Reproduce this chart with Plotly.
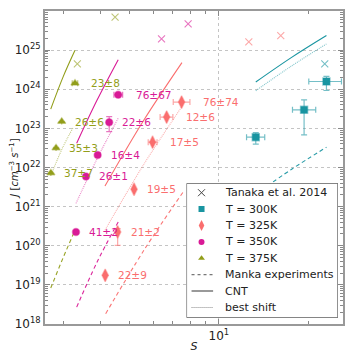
import numpy as np
import plotly.graph_objects as go

# ---------------- data ----------------
# T = 300K measurements
s300 = [13.32, 19.38, 23.05]
j300 = [5.95e22, 2.98e23, 1.58e24]
s300_ep = [0.96, 1.83, 2.85]
s300_em = [0.92, 1.67, 2.95]
j300_ep = [1.8e22, 2.4e23, 0.55e24]
j300_em = [2.0e22, 2.3e23, 0.65e24]

# T = 325K measurements
s325 = [7.49, 6.67, 5.98, 5.18, 4.56, 4.14]
j325 = [4.7e23, 1.94e23, 4.43e22, 2.78e21, 2.26e20, 1.75e19]
s325_ep = [0.50, 0.33, 0.21, 0, 0, 0]
s325_em = [0.47, 0.33, 0.20, 0, 0, 0]
j325_ep = [0, 0, 0, 0, 0.49e20, 0]
j325_em = [0, 0, 0, 0, 1.24e20, 0]
lab325 = ["76±74", "12±6", "17±5", "19±5", "21±2", "22±9"]

# T = 350K measurements
s350 = [4.58, 4.27, 3.905, 3.566, 3.30]
j350 = [7.2e23, 1.44e23, 2.09e22, 5.9e21, 2.26e20]
s350_ep = [0.16, 0, 0, 0, 0]
s350_em = [0.15, 0, 0, 0, 0]
j350_ep = [0, 0.56e23, 0, 0, 0]
j350_em = [0, 0.61e23, 0, 0, 0]
lab350 = ["76±67", "22±6", "16±4", "26±1", "41±2"]

# T = 375K measurements
s375 = [3.275, 2.954, 2.827, 2.715]
j375 = [1.43e24, 1.49e23, 3.16e22, 7.2e21]
s375_ep = [0.07, 0, 0, 0]
s375_em = [0.07, 0, 0, 0]
lab375 = ["23±8", "26±6", "35±3", "37±7"]

# Tanaka et al. 2014
tan_s = [22.75, 12.62, 16.17, 6.41, 7.88, 3.335, 4.47]
tan_j = [4.43e24, 1.62e25, 2.36e25, 1.94e25, 4.7e25, 4.43e24, 6.93e25]
tan_T = [300, 325, 325, 350, 350, 375, 375]

# CNT curves
cnt_s = {300: [13.32, 17.54, 23.05], 325: [4.133, 5.57, 7.51],
         350: [3.318, 3.884, 4.58], 375: [2.713, 2.991, 3.275]}
cnt_j = {300: [1.53e24, 6.43e24, 2.36e25], 325: [3.36e21, 1.56e23, 4.78e24],
         350: [4.18e22, 5.22e23, 5.70e24], 375: [3.10e23, 2.13e24, 9.89e24]}
# best shift curves
shift_s = {300: [13.32, 17.54, 23.05], 325: [4.133, 5.57, 7.51],
           350: [3.30, 3.884, 4.58], 375: [2.729, 2.961, 3.236]}
shift_j = {300: [9.16e23, 3.89e24, 1.44e25], 325: [2.49e20, 1.16e22, 3.62e23],
           350: [1.21e21, 1.65e22, 1.83e23], 375: [6.81e21, 2.98e22, 1.09e23]}
# Manka experiments curves
manka_s = {300: [13.32, 17.54, 23.05], 325: [4.155, 5.59, 7.56],
           350: [3.318, 3.884, 4.58], 375: [2.713, 2.991, 3.275]}
manka_j = {300: [2.09e21, 8.89e21, 3.30e22], 325: [1.83e18, 7.67e19, 2.29e21],
           350: [2.70e18, 3.78e19, 4.07e20], 375: [8.28e18, 5.07e19, 2.49e20]}

temps = [300, 325, 350, 375]
legend_labels = ["Tanaka et al. 2014", "T = 300K", "T = 325K", "T = 350K", "T = 375K",
                 "Manka experiments", "CNT", "best shift"]
x_tick_vals = [10]
x_tick_text = ["10<sup>1</sup>"]
y_tick_vals = [10.0 ** n for n in range(18, 27)]
y_tick_text = ["10<sup>%d</sup>" % n for n in range(18, 27)]

# ---------------- styling ----------------
col = {300: (25, 149, 161), 325: (250, 110, 110), 350: (217, 26, 150), 375: (146, 158, 26)}


def rgb(c, a=1.0):
    return "rgba(%d,%d,%d,%.2f)" % (c[0], c[1], c[2], a)


sym = {300: "square", 325: "diamond-tall", 350: "circle", 375: "triangle-up"}
msize = {300: 7, 325: 9, 350: 7, 375: 7}

meas = {
    300: (s300, j300, s300_ep, s300_em, j300_ep, j300_em, []),
    325: (s325, j325, s325_ep, s325_em, j325_ep, j325_em, lab325),
    350: (s350, j350, s350_ep, s350_em, j350_ep, j350_em, lab350),
    375: (s375, j375, s375_ep, s375_em, [0] * len(s375), [0] * len(s375), lab375),
}

fig = go.Figure()
FONT = "DejaVu Sans"

# curves
for T in temps:
    fig.add_trace(go.Scatter(x=manka_s[T], y=manka_j[T], mode="lines",
                             line=dict(color=rgb(col[T], 0.95), width=1.1, dash="4px,3px",
                                       shape="spline"), hoverinfo="skip"))
    fig.add_trace(go.Scatter(x=cnt_s[T], y=cnt_j[T], mode="lines",
                             line=dict(color=rgb(col[T], 1.0), width=1.1, shape="spline"),
                             hoverinfo="skip"))
    fig.add_trace(go.Scatter(x=shift_s[T], y=shift_j[T], mode="lines",
                             line=dict(color=rgb(col[T], 0.55), width=1.1, dash="1px,1px",
                                       shape="spline"), hoverinfo="skip"))

# Tanaka crosses
for T in temps:
    xs = [s for s, t in zip(tan_s, tan_T) if t == T]
    ys = [j for j, t in zip(tan_j, tan_T) if t == T]
    fig.add_trace(go.Scatter(x=xs, y=ys, mode="markers",
                             marker=dict(symbol="x-thin", size=7,
                                         line=dict(color=rgb(col[T], 0.6), width=1.1))))

# measurements
for T in temps:
    s, j, sep, sem, jep, jem, labs = meas[T]
    fig.add_trace(go.Scatter(
        x=s, y=j, mode="markers",
        marker=dict(symbol=sym[T], size=msize[T], color=rgb(col[T]),
                    line=dict(color=rgb(col[T], 0.45), width=1.5)),
        error_x=dict(type="data", array=sep, arrayminus=sem, symmetric=False,
                     color=rgb(col[T], 0.6), thickness=1.2, width=3),
        error_y=dict(type="data", array=jep, arrayminus=jem, symmetric=False,
                     color=rgb(col[T], 0.6), thickness=1.2, width=3),
    ))
    for k, lab in enumerate(labs):
        fig.add_annotation(x=np.log10(s[k] + sep[k]), y=np.log10(j[k]), text=lab,
                           showarrow=False, xanchor="left", yanchor="middle", xshift=11,
                           font=dict(family=FONT, size=10.5, color=rgb(col[T])))

# ---------------- hand-built legend on an auxiliary (pixel-like) axis ----------------
LW, LH, ROW0, ROWH = 151.6, 134.4, 9.4, 16.4
rows = [ROW0 + ROWH * i for i in range(len(legend_labels))]
SX = 15  # symbol centre
fig.add_shape(type="rect", xref="x2", yref="y2", x0=0, x1=LW, y0=0, y1=LH,
              fillcolor="white", line=dict(color="#333", width=1), layer="below")
fig.add_trace(go.Scatter(x=[SX], y=[rows[0]], xaxis="x2", yaxis="y2", mode="markers",
                         marker=dict(symbol="x-thin", size=7, line=dict(color="#444", width=1))))
for i, T in enumerate(temps):
    fig.add_trace(go.Scatter(x=[SX], y=[rows[i + 1]], xaxis="x2", yaxis="y2", mode="markers",
                             marker=dict(symbol=sym[T], size=6 if T != 325 else 8,
                                         color=rgb(col[T]), line=dict(width=0))))
line_styles = [dict(color="#555", width=1, dash="3px,3px"),
               dict(color="#999", width=2),
               dict(color="#888", width=1, dash="1px,1px")]
for i, ls in enumerate(line_styles):
    fig.add_trace(go.Scatter(x=[5, 26.6], y=[rows[5 + i]] * 2, xaxis="x2", yaxis="y2",
                             mode="lines", line=ls))
for i, lab in enumerate(legend_labels):
    fig.add_annotation(x=36, y=rows[i], xref="x2", yref="y2", text=lab, showarrow=False,
                       xanchor="left", yanchor="middle",
                       font=dict(family=FONT, size=11, color="#222"))

axis_common = dict(type="log", showline=True, linecolor="#999", linewidth=2, mirror="allticks",
                   ticks="inside", ticklen=5, tickcolor="#888", tickwidth=1,
                   showgrid=True, gridcolor="#c4c4c4", griddash="dot", gridwidth=1,
                   zeroline=False, automargin=False,
                   tickfont=dict(family=FONT, size=12, color="#222"))

x_minor = [3, 4, 5, 6, 7, 8, 9, 20]
y_minor = [k * 10.0 ** n for n in range(18, 26) for k in range(2, 10)]

# the page body adds an 8px offset, so the figure is 352 px and margins are shifted
fig.update_layout(
    width=352, height=352, margin=dict(l=37, r=17, t=3, b=36),
    paper_bgcolor="white", plot_bgcolor="white",
    font=dict(family=FONT, size=11, color="#222"),
    showlegend=False,
    xaxis=dict(axis_common, range=[0.4141, 1.4185], tickmode="array",
               tickvals=x_tick_vals, ticktext=x_tick_text,
               minor=dict(tickmode="array", tickvals=x_minor, ticks="inside", ticklen=3,
                          tickcolor="#888", showgrid=False),
               title=dict(text="<i>S</i>", font=dict(family=FONT, size=11), standoff=0)),
    yaxis=dict(axis_common, range=[18, 26], tickmode="array",
               tickvals=y_tick_vals, ticktext=y_tick_text,
               minor=dict(tickmode="array", tickvals=y_minor, ticks="inside", ticklen=3,
                          tickcolor="#888", showgrid=False),
               title=dict(text="<i>J</i> [<i>cm</i><sup>−3</sup> <i>s</i><sup>−1</sup>]",
                          font=dict(family=FONT, size=10), standoff=2)),
    xaxis2=dict(domain=[0.475, 0.983], range=[0, LW], anchor="y2", visible=False,
                fixedrange=True, showgrid=False, zeroline=False),
    yaxis2=dict(domain=[0.0201, 0.4495], range=[LH, 0], anchor="x2", visible=False,
                fixedrange=True, showgrid=False, zeroline=False),
)

fig.write_html("out.html")
